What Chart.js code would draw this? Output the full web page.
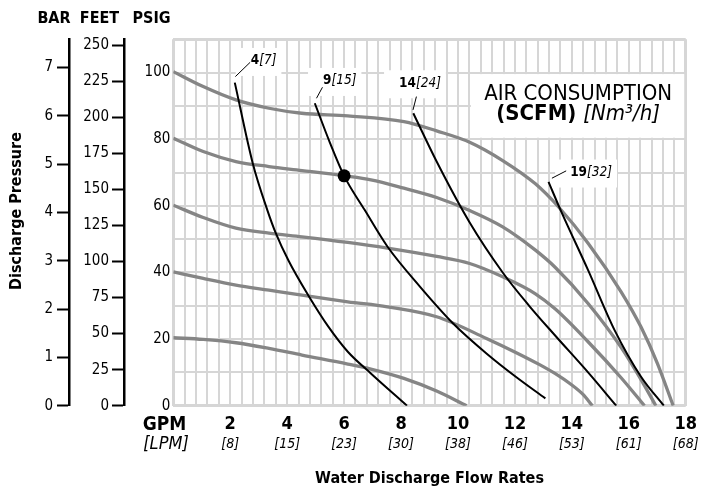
<!DOCTYPE html>
<html>
<head>
<meta charset="utf-8">
<script src="https://cdn.jsdelivr.net/npm/chart.js@4.4.1/dist/chart.umd.min.js"></script>
<style>
  html, body { margin:0; padding:0; background:#fff; }
  #wrap { width:705px; height:489px; }
</style>
</head>
<body>
<div id="wrap"><canvas id="pump" width="705" height="489"></canvas></div>
<script>
// water flow (GPM) against discharge pressure (PSIG)
var psi100X = [0, 1.05, 2.2, 3.36, 4.51, 6.13, 8.1, 9.25, 10.41, 11.57, 12.72, 13.55, 14.57, 15.73, 16.43, 17.0, 17.56];
var psi100Y = [100.3, 95.8, 91.8, 89.3, 87.8, 87.0, 85.3, 82.5, 79.1, 73.6, 66.6, 59.5, 48.8, 34.2, 23.6, 12.8, 0];
var psi80X = [0, 1.05, 2.2, 3.36, 4.52, 6.0, 6.94, 8.1, 9.25, 10.41, 11.57, 12.72, 13.42, 14.57, 15.73, 16.5, 16.95];
var psi80Y = [80.3, 76.3, 73.3, 71.8, 70.6, 69.0, 67.8, 65.3, 62.5, 58.6, 53.7, 46.7, 41.5, 30.7, 17.5, 6.8, 0];
var psi60X = [0, 1.05, 2.2, 3.36, 4.52, 6.13, 7.52, 9.25, 10.41, 11.57, 12.72, 13.42, 14.57, 15.73, 16.55];
var psi60Y = [60.2, 56.5, 53.3, 51.8, 50.7, 49.0, 47.3, 44.8, 42.7, 38.7, 33.6, 29.0, 19.2, 8.4, 0];
var psi40X = [0, 1.05, 2.2, 3.36, 4.52, 6.13, 7.52, 9.25, 11.0, 12.03, 12.85, 13.42, 14.0, 14.4, 14.72];
var psi40Y = [40.2, 38.2, 36.2, 34.7, 33.2, 31.2, 29.7, 26.7, 20.2, 16.0, 12.4, 9.6, 6.2, 3.3, 0];
var psi20X = [0, 1.05, 2.2, 3.36, 4.52, 6.13, 6.94, 8.1, 9.25, 10.3];
var psi20Y = [20.4, 19.9, 18.9, 17.2, 15.2, 12.5, 11.0, 8.2, 4.4, 0];

// air consumption lines (SCFM)
var scfm4X = [2.16, 2.79, 3.3, 3.6, 4.05, 4.75, 5.44, 6.13, 6.94, 8.21];
var scfm4Y = [97.0, 72.8, 58.8, 51.8, 43.5, 33.0, 23.8, 16.2, 9.7, 0];
var scfm9X = [4.97, 5.5, 6.0, 6.72, 7.52, 8.67, 9.83, 11.0, 12.03, 13.07];
var scfm9Y = [90.8, 79.0, 69.0, 58.8, 47.8, 35.7, 24.7, 15.7, 8.7, 2.2];
var scfm14X = [8.43, 9.25, 10.41, 11.57, 12.5, 13.42, 14.57, 15.56];
var scfm14Y = [87.8, 73.3, 55.0, 40.0, 30.0, 21.0, 10.0, 0];
var scfm19X = [13.18, 13.6, 14.57, 15.5, 16.43, 17.23];
var scfm19Y = [67.2, 58.8, 40.7, 22.7, 8.7, 0];

var dotX = [6.0];
var dotY = [69.0];

var gpmTicks = [2, 4, 6, 8, 10, 12, 14, 16, 18];
var lpmTicks = ['[8]', '[15]', '[23]', '[30]', '[38]', '[46]', '[53]', '[61]', '[68]'];
var scfmNames = ['4', '9', '14', '19'];
var nm3Names = ['[7]', '[15]', '[24]', '[32]'];

var PSI_TO_FT = 2.31;
var PSI_TO_BAR = 14.5038;

var FONT = '"DejaVu Sans Condensed", "Liberation Sans Narrow", sans-serif';
var GRID = '#d6d6d6';
var CURVE = '#858585';

function pts(xs, ys) {
  return xs.map(function(v, i) { return {x: v, y: ys[i]}; });
}
function curve(xs, ys, color, w) {
  return {data: pts(xs, ys), yAxisID: 'psig', showLine: true, borderColor: color, borderWidth: w,
    pointRadius: 0, cubicInterpolationMode: 'monotone', fill: false};
}

// where the curve labels sit (data coords) and their little leader lines
var labelAt = [[2.72, 103.5], [5.26, 97.5], [7.93, 96.8], [13.94, 70.0]];
var leaders = [
  [[2.18, 98.8], [2.70, 103.1]],
  [[5.03, 92.3], [5.24, 95.6]],
  [[8.42, 88.8], [8.54, 92.8]],
  [[13.30, 68.3], [13.80, 70.5]]
];

var annotate = {
  id: 'annotate',
  beforeDatasetsDraw: function(chart) {
    var ctx = chart.ctx, sx = chart.scales.x, sy = chart.scales.psig;
    ctx.save();
    ctx.fillStyle = '#fff';
    // panel behind the legend title
    var l = sx.getPixelForValue(10.4) + 1.5, r = sx.getPixelForValue(18) - 1.5;
    var t = sy.getPixelForValue(100) + 1.5, b = sy.getPixelForValue(80) - 1.5;
    ctx.fillRect(l, t, r - l, b - t);

    ctx.textBaseline = 'middle';
    for (var i = 0; i < scfmNames.length; i++) {
      var px = sx.getPixelForValue(labelAt[i][0]), py = sy.getPixelForValue(labelAt[i][1]);
      ctx.font = 'bold 13.5px ' + FONT;
      var w1 = ctx.measureText(scfmNames[i]).width;
      ctx.font = 'italic 13.5px ' + FONT;
      var w2 = ctx.measureText(nm3Names[i]).width;
      ctx.fillStyle = '#fff';
      ctx.fillRect(px - 15, py - 13, w1 + w2 + 20, 28);
    }
    for (i = 0; i < scfmNames.length; i++) {
      px = sx.getPixelForValue(labelAt[i][0]); py = sy.getPixelForValue(labelAt[i][1]);
      ctx.fillStyle = '#000';
      ctx.textAlign = 'left';
      ctx.font = 'bold 13.5px ' + FONT;
      w1 = ctx.measureText(scfmNames[i]).width;
      ctx.fillText(scfmNames[i], px, py);
      ctx.font = 'italic 13.5px ' + FONT;
      ctx.fillText(nm3Names[i], px + w1, py);
      var a = leaders[i][0], c = leaders[i][1];
      ctx.strokeStyle = '#000';
      ctx.lineWidth = 1;
      ctx.beginPath();
      ctx.moveTo(sx.getPixelForValue(a[0]), sy.getPixelForValue(a[1]));
      ctx.lineTo(sx.getPixelForValue(c[0]), sy.getPixelForValue(c[1]));
      ctx.stroke();
    }

    // legend title
    var cx = sx.getPixelForValue(14.22);
    ctx.fillStyle = '#000';
    ctx.textAlign = 'center';
    ctx.font = '22px ' + FONT;
    ctx.fillText('AIR CONSUMPTION', cx, sy.getPixelForValue(93.6));
    ctx.font = 'bold 22px ' + FONT;
    var s1 = '(SCFM) ';
    var ws1 = ctx.measureText(s1).width;
    ctx.font = 'italic 22px ' + FONT;
    var s2 = '[Nm\u00b3/h]';
    var ws2 = ctx.measureText(s2).width;
    var y2 = sy.getPixelForValue(87.5);
    ctx.textAlign = 'left';
    ctx.font = 'bold 22px ' + FONT;
    ctx.fillText(s1, cx - (ws1 + ws2) / 2, y2);
    ctx.font = 'italic 22px ' + FONT;
    ctx.fillText(s2, cx - (ws1 + ws2) / 2 + ws1, y2);
    ctx.restore();
  },
  afterDraw: function(chart) {
    var ctx = chart.ctx;
    ctx.save();
    ctx.fillStyle = '#000';
    ctx.textAlign = 'center';
    ctx.textBaseline = 'middle';
    ctx.font = 'bold 16px ' + FONT;
    ctx.fillText('BAR', 54, 18.5);
    ctx.fillText('FEET', 99.5, 18.5);
    ctx.fillText('PSIG', 151.5, 18.5);
    // GPM / LPM row captions
    ctx.font = 'bold 19px ' + FONT;
    ctx.fillText('GPM', 164.5, 425);
    ctx.font = 'italic 18px ' + FONT;
    ctx.fillText('[LPM]', 166, 444.5);
    ctx.translate(17, 211);
    ctx.rotate(-Math.PI / 2);
    ctx.font = 'bold 16px ' + FONT;
    ctx.fillText('Discharge Pressure', 0, 0);
    ctx.restore();
  }
};

Chart.defaults.font.family = FONT;
Chart.defaults.color = '#000';

new Chart(document.getElementById('pump'), {
  type: 'scatter',
  data: {
    datasets: [
      {data: pts(dotX, dotY), yAxisID: 'psig', pointRadius: 6.5, pointBackgroundColor: '#000', pointBorderWidth: 0, showLine: false},
      curve(scfm4X, scfm4Y, '#000', 2),
      curve(scfm9X, scfm9Y, '#000', 2),
      curve(scfm14X, scfm14Y, '#000', 2),
      curve(scfm19X, scfm19Y, '#000', 2),
      curve(psi100X, psi100Y, CURVE, 3.3),
      curve(psi80X, psi80Y, CURVE, 3.3),
      curve(psi60X, psi60Y, CURVE, 3.3),
      curve(psi40X, psi40Y, CURVE, 3.3),
      curve(psi20X, psi20Y, CURVE, 3.3)
    ]
  },
  options: {
    responsive: false,
    animation: false,
    layout: {padding: {left: 0, right: 13, top: 39.3, bottom: 0}},
    plugins: {legend: {display: false}, tooltip: {enabled: false}},
    scales: {
      x: {
        type: 'linear', position: 'bottom', min: 0, max: 18, weight: 0,
        grid: {color: GRID, drawTicks: false,
          lineWidth: function(c) { return (c.tick && (c.tick.value === 0 || c.tick.value === 18)) ? 3 : 2; }},
        border: {display: false},
        ticks: {stepSize: 0.4, autoSkip: false, maxRotation: 0, padding: 8,
          font: {size: 18, weight: 'bold'},
          callback: function(v) { var r = Math.round(v * 10) / 10; return gpmTicks.indexOf(r) >= 0 ? String(r) : ''; }},
        afterFit: function(s) { s.height = 30; }
      },
      x2: {
        type: 'linear', position: 'bottom', min: 0, max: 18, weight: 1,
        grid: {display: false, drawTicks: false},
        border: {display: false},
        ticks: {stepSize: 2, autoSkip: false, maxRotation: 0, padding: 0,
          font: {size: 14, style: 'italic'},
          callback: function(v) { var k = gpmTicks.indexOf(v); return k >= 0 ? lpmTicks[k] : ''; }},
        title: {display: true, text: 'Water Discharge Flow Rates', font: {size: 16, weight: 'bold'},
          padding: {top: 0, bottom: 1}},
        afterFit: function(s) { s.height = 53.3; }
      },
      psig: {
        type: 'linear', position: 'left', min: 0, max: 110, weight: 1,
        grid: {color: GRID, drawTicks: false,
          lineWidth: function(c) { return (c.tick && (c.tick.value === 0 || c.tick.value === 110)) ? 3 : 2; }},
        border: {display: false},
        ticks: {stepSize: 10, padding: 3, font: {size: 15},
          callback: function(v) { return (v % 20 === 0 && v <= 100) ? v : ''; }},
        afterFit: function(s) { s.width = 49.3; }
      },
      feet: {
        type: 'linear', position: 'left', min: 0, max: 110 * PSI_TO_FT, weight: 2,
        grid: {drawOnChartArea: false, drawTicks: true, tickLength: 12, tickColor: '#000', tickWidth: 2},
        border: {display: true, color: '#000', width: 2.5},
        ticks: {stepSize: 25, includeBounds: false, padding: 3, font: {size: 15}},
        afterFit: function(s) { s.width = 55; }
      },
      bar: {
        type: 'linear', position: 'left', min: 0, max: 110 / PSI_TO_BAR, weight: 3,
        grid: {drawOnChartArea: false, drawTicks: true, tickLength: 12, tickColor: '#000', tickWidth: 2},
        border: {display: true, color: '#000', width: 2.5},
        ticks: {stepSize: 1, includeBounds: false, padding: 4, font: {size: 15}},
        afterFit: function(s) { s.width = 69; }
      }
    }
  },
  plugins: [annotate]
});
</script>
</body>
</html>
